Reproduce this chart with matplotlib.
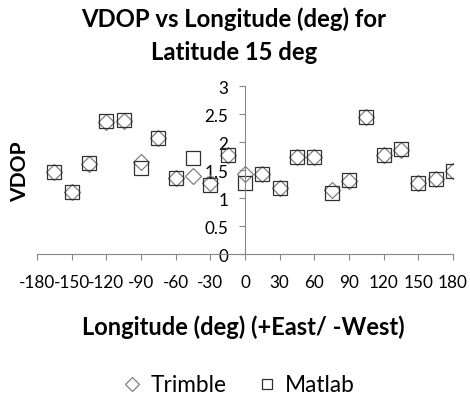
import matplotlib.pyplot as plt
from matplotlib.lines import Line2D

longitude = [-165, -150, -135, -120, -105, -90, -75, -60, -45, -30, -15,
             0, 15, 30, 45, 60, 75, 90, 105, 120, 135, 150, 165, 180]
vdop_trimble = [1.47, 1.10, 1.60, 2.35, 2.37, 1.65, 2.07, 1.35, 1.39, 1.27, 1.77,
                1.42, 1.42, 1.18, 1.73, 1.73, 1.14, 1.31, 2.44, 1.77, 1.85, 1.26, 1.34, 1.49]
vdop_matlab = [1.46, 1.10, 1.63, 2.38, 2.40, 1.53, 2.07, 1.35, 1.71, 1.24, 1.77,
               1.26, 1.42, 1.18, 1.73, 1.73, 1.09, 1.32, 2.44, 1.77, 1.87, 1.26, 1.34, 1.49]
x_ticks = [-180, -150, -120, -90, -60, -30, 0, 30, 60, 90, 120, 150, 180]
y_ticks = [0, 0.5, 1, 1.5, 2, 2.5, 3]
y_tick_labels = ["0", "0.5", "1", "1.5", "2", "2.5", "3"]

W, H = 470, 402

plt.rcParams["font.family"] = ["Lato", "DejaVu Sans"]

fig = plt.figure(figsize=(W / 100, H / 100), dpi=100)
renderer = fig.canvas.get_renderer()


def fit_size(text, target_px, weight="normal"):
    # font size that makes the text about target_px wide
    t = fig.text(0, 0, text, fontsize=10, fontweight=weight)
    w = t.get_window_extent(renderer=renderer).width
    t.remove()
    return 10 * target_px / w


def px(x, y):
    return x / W, 1 - y / H


ax = fig.add_axes([37 / W, 1 - 255 / H, 416 / W, 168 / H])

ax.plot(longitude, vdop_trimble, linestyle="none", marker="D", markersize=8.0,
        markerfacecolor="none", markeredgecolor="#808080", markeredgewidth=0.9)
ax.plot(longitude, vdop_matlab, linestyle="none", marker="s", markersize=9.4,
        markerfacecolor="none", markeredgecolor="#303030", markeredgewidth=0.9)

ax.set_xlim(-180, 180)
ax.set_ylim(0, 3)
ax.set_xticks(x_ticks)
ax.set_xticklabels([str(t) for t in x_ticks])
ax.set_yticks(y_ticks)
ax.set_yticklabels(y_tick_labels)

tick_size = fit_size("-180", 36)
ax.spines["left"].set_position(("data", 0))
ax.spines["top"].set_visible(False)
ax.spines["right"].set_visible(False)
for side in ["left", "bottom"]:
    ax.spines[side].set_color("#868686")
ax.tick_params(axis="both", colors="#868686", labelcolor="black",
               labelsize=tick_size, length=4, direction="out")
ax.tick_params(axis="x", pad=10.5)
ax.tick_params(axis="y", pad=8)

title_size = fit_size("VDOP vs Longitude (deg) for", 305, "bold")
fig.text(*px(234, 26.7), "VDOP vs Longitude (deg) for", ha="center", va="baseline",
         fontsize=title_size, fontweight="bold")
fig.text(*px(234, 60), "Latitude 15 deg", ha="center", va="baseline",
         fontsize=title_size, fontweight="bold")

fig.text(*px(19.7, 171.7), "VDOP", rotation=90, ha="center", va="center",
         fontsize=fit_size("VDOP", 60, "bold"), fontweight="bold")
fig.text(*px(243.5, 335), "Longitude (deg) (+East/ -West)", ha="center",
         va="baseline", fontsize=fit_size("Longitude (deg) (+East/ -West)", 323, "bold"),
         fontweight="bold")

handles = [
    Line2D([], [], linestyle="none", marker="D", markersize=7.2,
           markerfacecolor="none", markeredgecolor="#808080", markeredgewidth=0.9),
    Line2D([], [], linestyle="none", marker="s", markersize=6.8,
           markerfacecolor="none", markeredgecolor="#303030", markeredgewidth=0.9),
]
fig.legend(handles, ["Trimble", "Matlab"], loc="center",
           bbox_to_anchor=px(239, 386), ncol=2, frameon=False,
           fontsize=fit_size("Trimble", 76), handlelength=0.8, handletextpad=0.4,
           columnspacing=1.4, borderpad=0)

fig.savefig("out.png", dpi=100)
